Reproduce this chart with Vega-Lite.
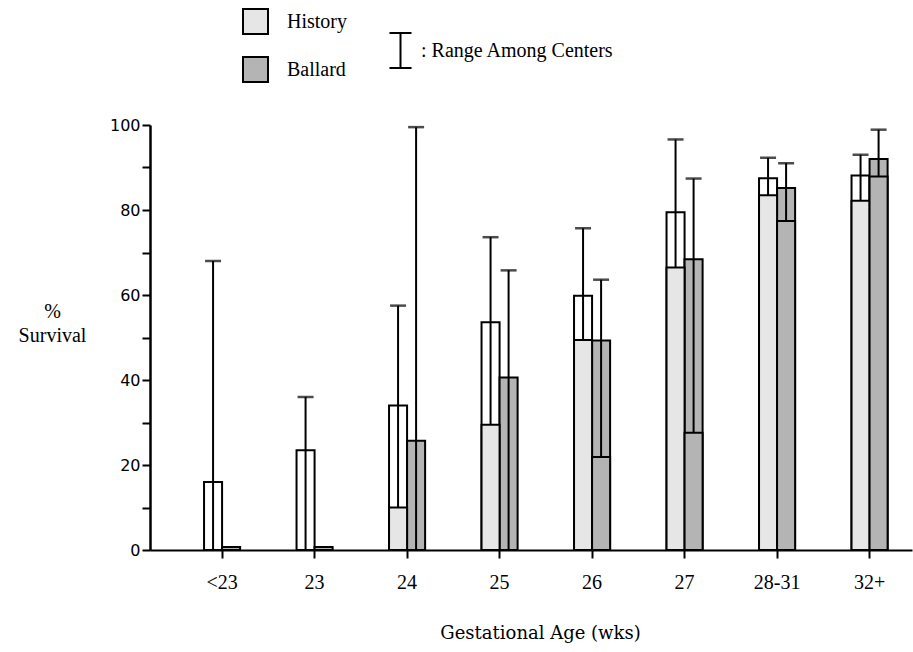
{
  "$schema": "https://vega.github.io/schema/vega-lite/v6.json",
  "width": 762,
  "height": 425,
  "autosize": {"type": "none"},
  "padding": {"left": 150, "top": 125, "right": 1, "bottom": 102},
  "background": "white",
  "config": {
    "view": {"stroke": null},
    "axis": {"grid": false},
    "axisY": {
      "values": [0, 10, 20, 30, 40, 50, 60, 70, 80, 90, 100],
      "labelExpr": "datum.value % 20 === 0 ? datum.label : ''",
      "domainColor": "black",
      "domainWidth": 2.5,
      "tickColor": "black",
      "tickWidth": 2,
      "tickSize": 8,
      "labelFont": "DejaVu Sans",
      "labelFontSize": 16,
      "labelColor": "black",
      "labelPadding": 2,
      "titleAngle": 0,
      "titleFont": "Liberation Serif",
      "titleFontSize": 20,
      "titleFontWeight": "normal",
      "titleColor": "black",
      "titleAlign": "center",
      "titleBaseline": "top",
      "titleX": -98,
      "titleY": 176,
      "titleLineHeight": 24
    }
  },
  "data": {
    "values": [
      {"age": "<23", "series": "History", "value": 16, "min": 0, "max": 68},
      {"age": "<23", "series": "Ballard", "value": 0.7, "min": null, "max": null},
      {"age": "23", "series": "History", "value": 23.5, "min": 0, "max": 36},
      {"age": "23", "series": "Ballard", "value": 0.7, "min": null, "max": null},
      {"age": "24", "series": "History", "value": 34, "min": 10, "max": 57.5},
      {"age": "24", "series": "Ballard", "value": 25.7, "min": 0, "max": 99.5},
      {"age": "25", "series": "History", "value": 53.6, "min": 29.5, "max": 73.6},
      {"age": "25", "series": "Ballard", "value": 40.6, "min": 0, "max": 65.8},
      {"age": "26", "series": "History", "value": 59.8, "min": 49.4, "max": 75.7},
      {"age": "26", "series": "Ballard", "value": 49.3, "min": 21.9, "max": 63.6},
      {"age": "27", "series": "History", "value": 79.5, "min": 66.5, "max": 96.6},
      {"age": "27", "series": "Ballard", "value": 68.4, "min": 27.6, "max": 87.4},
      {"age": "28-31", "series": "History", "value": 87.5, "min": 83.5, "max": 92.3},
      {"age": "28-31", "series": "Ballard", "value": 85.2, "min": 77.4, "max": 91},
      {"age": "32+", "series": "History", "value": 88.1, "min": 82.2, "max": 93},
      {"age": "32+", "series": "Ballard", "value": 92, "min": 87.9, "max": 98.9}
    ]
  },
  "encoding": {
    "x": {
      "field": "age",
      "type": "nominal",
      "sort": ["<23", "23", "24", "25", "26", "27", "28-31", "32+"],
      "scale": {"paddingInner": 0.61, "paddingOuter": 0.424, "align": 0.689, "round": false},
      "axis": {
        "title": "Gestational Age  (wks)",
        "bandPosition": 0.5,
        "labelAngle": 0,
        "domainColor": "black",
        "domainWidth": 2,
        "tickColor": "black",
        "tickWidth": 2,
        "tickSize": 8,
        "labelFont": "Liberation Serif",
        "labelFontSize": 20,
        "labelColor": "black",
        "labelPadding": 14,
        "titleFont": "DejaVu Serif",
        "titleFontSize": 18,
        "titleFontWeight": "normal",
        "titleColor": "black",
        "titleX": 390,
        "titleY": 83,
        "titleAlign": "center",
        "titleBaseline": "middle"
      }
    },
    "xOffset": {
      "field": "series",
      "type": "nominal",
      "sort": ["History", "Ballard"],
      "scale": {"paddingInner": 0, "paddingOuter": 0}
    }
  },
  "layer": [
    {
      "mark": {"type": "bar", "stroke": "black", "strokeWidth": 2},
      "encoding": {
        "y": {
          "field": "value",
          "type": "quantitative",
          "scale": {"domain": [0, 100], "nice": false},
          "title": ["%", "Survival"]
        },
        "fill": {
          "condition": {"test": "datum.series === 'History'", "value": "white"},
          "value": "#b4b4b4"
        }
      }
    },
    {
      "mark": {"type": "bar", "stroke": "black", "strokeWidth": 2},
      "encoding": {
        "y": {"field": "min", "type": "quantitative", "title": ["%", "Survival"]},
        "fill": {
          "field": "series",
          "type": "nominal",
          "scale": {"domain": ["History", "Ballard"], "range": ["#e6e6e6", "#b4b4b4"]},
          "legend": {
            "title": null,
            "orient": "none",
            "legendX": 92,
            "legendY": -117,
            "direction": "vertical",
            "symbolType": "square",
            "symbolSize": 625,
            "symbolStrokeColor": "black",
            "symbolStrokeWidth": 2,
            "symbolOpacity": 1,
            "labelFont": "Liberation Serif",
            "labelFontSize": 20,
            "labelColor": "black",
            "labelOffset": 18,
            "labelLimit": 400,
            "rowPadding": 15,
            "padding": 0
          }
        }
      }
    },
    {
      "mark": {"type": "rule", "strokeWidth": 2},
      "encoding": {
        "y": {"field": "min", "type": "quantitative", "title": ["%", "Survival"]},
        "y2": {"field": "max"},
        "stroke": {
          "datum": "Range Among Centers",
          "type": "nominal",
          "scale": {"range": ["black"]},
          "legend": {
            "title": null,
            "orient": "none",
            "legendX": 232,
            "legendY": -93,
            "symbolType": "M-0.63,-1H0.63M0,-1V1M-0.63,1H0.63",
            "symbolSize": 1225,
            "symbolStrokeWidth": 2,
            "labelExpr": "':   ' + datum.label",
            "labelFont": "Liberation Serif",
            "labelFontSize": 20,
            "labelColor": "black",
            "labelOffset": 2,
            "labelLimit": 400,
            "padding": 0
          }
        }
      }
    },
    {
      "mark": {"type": "tick", "orient": "horizontal", "size": 16, "thickness": 2.5, "color": "black"},
      "encoding": {
        "y": {"field": "max", "type": "quantitative", "title": ["%", "Survival"]}
      }
    }
  ]
}
